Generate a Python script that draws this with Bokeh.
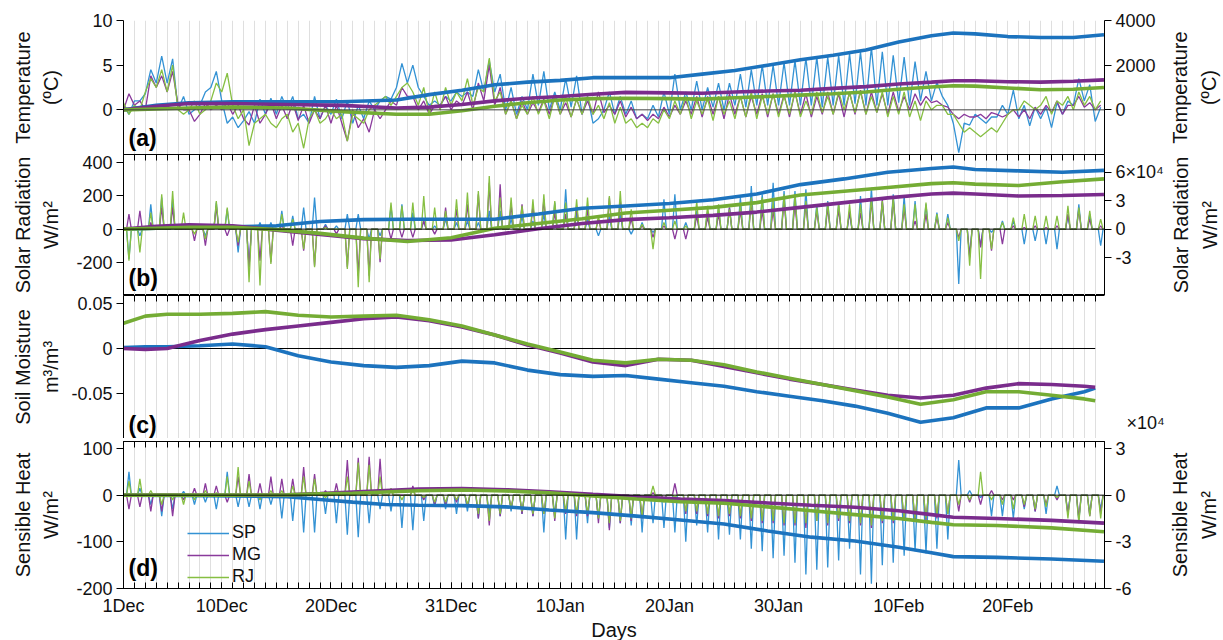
import numpy as np
from bokeh.plotting import figure
from bokeh.models import (Range1d, LinearAxis, FixedTicker, Legend,
                          LegendItem, Grid, Span, Label)
from bokeh.layouts import column, row
from bokeh.embed import file_html
from bokeh.resources import INLINE

# ---------------------------------------------------------------- time axis
DAYS = list(range(90))                      # 1 Dec ... 28 Feb (day 0 = 1 Dec)
DATE_LABELS = {0: "1Dec", 9: "10Dec", 19: "20Dec", 30: "31Dec", 40: "10Jan",
               50: "20Jan", 60: "30Jan", 71: "10Feb", 81: "20Feb"}

# ------------------------------------------------ (a) temperature anomaly
# 12-hourly samples (°C), one (night, afternoon) pair per day
TEMP_SP = [
    0.5, -0.5, 1.0, 1.0, 1.8, 4.5, 3.0, 6.0, 3.0, 5.7, 0.0, 1.5, -0.5, 0.0, 0.5, 2.0, 2.5, 4.3, 1.0, -1.5,
    -0.8, -2.0, -1.2, -0.2, -1.5, 1.2, -0.5, 1.3, -0.5, 1.5, 0.0, 1.5, -1.0, -0.5, -1.5, 1.5, -1.0, 0.5, -0.5, 1.2,
    -1.0, 1.0, -1.5, 0.5, -1.0, 1.0, 0.0, 1.0, 1.5, 1.2, 2.5, 5.2, 3.0, 5.0, 2.5, 1.5, 0.5, 1.0, 0.5, 1.5,
    1.0, 2.0, 1.5, 2.0, 1.5, 4.5, 2.0, 5.5, 2.0, 4.0, 0.0, 2.5, -0.5, 1.5, 0.0, 4.0, 0.5, 4.3, 0.0, 2.0,
    0.0, 3.5, 0.3, 3.8, -0.5, 1.5, -1.5, -1.0, 0.0, 2.0, -0.5, 1.5, -0.5, 1.0, -1.0, -0.5, -1.0, 0.5, -0.8, 2.0,
    -0.5, 4.0, 0.0, 2.0, 0.0, 3.2, 0.0, 2.5, 0.3, 3.0, 0.0, 3.0, 0.5, 4.0, 0.3, 4.5, 0.5, 5.0, 0.5, 5.0,
    0.5, 5.3, 0.5, 5.5, 0.5, 5.8, 0.5, 5.9, 0.3, 5.9, 0.5, 6.1, 0.5, 6.3, 0.7, 6.5, 0.5, 7.0, 0.5, 6.5,
    0.5, 6.1, 0.8, 5.9, 0.5, 5.4, 1.0, 4.3, 1.0, 3.1, 1.5, 0.5, -1.5, -4.8, -1.5, -1.7, -0.5, -1.0, -1.5, -0.8,
    -0.8, 0.5, -0.5, 2.2, -1.0, 0.5, -1.8, 0.3, -1.0, 0.3, -2.0, 0.8, -0.5, 1.0, 0.5, 3.5, 1.0, 2.8, -1.3, 0.3,
]
TEMP_MG = [
    0.0, 1.8, 0.5, 1.0, 0.0, 3.8, 2.5, 3.8, 2.0, 4.3, 0.5, 0.0, 0.0, -1.3, -0.5, 0.7, 0.0, 0.5, 0.0, 0.8,
    -0.5, 0.5, -1.0, -1.7, 0.5, -1.5, -0.5, 0.8, -1.0, 0.5, -1.0, 0.8, -1.2, 0.5, -1.5, 0.0, -1.0, 0.5, -1.5, 0.5,
    -1.5, -3.5, 0.0, -2.0, -1.0, -2.5, 0.0, -1.0, 0.0, 1.0, 0.5, 2.5, 1.5, 1.5, 0.0, 1.0, -0.5, 0.5, 0.5, 1.5,
    0.0, 1.0, 0.5, 2.0, 0.0, 3.0, 1.0, 5.0, 0.5, 2.5, -0.5, 1.0, -1.0, 1.0, -0.5, 0.8, -0.3, 1.2, -0.5, 1.5,
    -0.5, 0.8, -0.8, 1.2, -0.5, 1.0, -0.5, 2.0, -0.3, 0.5, -0.5, 1.0, -0.8, 0.3, -1.0, -0.5, -1.2, -0.5, -1.0, 0.3,
    -0.8, 0.5, -0.5, 1.0, -0.5, 1.5, -0.8, 1.5, -0.5, 1.5, -1.0, 1.8, -0.5, 1.5, -0.8, 1.5, -0.5, 1.8, -0.8, 1.8,
    -0.5, 1.7, -0.8, 2.0, -0.5, 1.8, -0.8, 1.5, -0.5, 2.0, -0.5, 1.8, -0.8, 2.0, -0.5, 2.2, -0.5, 2.0, -0.3, 1.8,
    -0.5, 2.0, -0.2, 1.5, 0.0, 1.8, 0.5, 1.5, 0.8, 1.0, 0.5, 0.3, -0.5, -1.0, -0.5, -0.8, -0.8, -0.5, -1.0, -0.3,
    -0.5, -0.8, -0.5, 0.0, -0.8, 0.0, -1.0, 0.3, -0.5, 0.5, -0.3, 1.0, -0.5, 0.5, 0.5, 1.5, 0.3, 0.8, 0.0, 0.5,
]
TEMP_RJ = [
    0.8, -0.5, 0.5, 0.0, 2.0, 3.5, 2.5, 4.5, 2.0, 5.0, 0.0, -0.5, 0.0, 1.0, -0.5, 0.0, 1.0, 3.0, 2.0, 4.1,
    0.5, -1.0, 0.0, -4.0, -1.5, -1.0, -0.5, -1.5, -2.0, -1.0, -0.5, -2.5, -1.5, -4.3, -1.0, 0.0, -1.5, -1.0, 0.0, -1.0,
    -0.5, -3.5, -0.5, -1.0, -1.5, 0.0, 0.5, 1.0, 1.5, 0.5, 1.5, 2.5, 3.0, 2.0, 0.5, 2.5, -0.5, 2.0, 0.0, 2.5,
    0.5, 2.0, 1.0, 3.5, 0.5, 2.5, 2.0, 5.8, 1.0, 2.0, -0.5, 1.0, -1.0, 0.5, -0.5, 1.5, -0.5, 1.0, -1.0, 1.5,
    -0.5, 1.5, -0.8, 1.2, -0.5, 1.5, -0.5, 0.5, -1.0, 0.8, -1.5, 0.3, -1.5, -1.0, -2.0, -1.5, -2.0, -1.0, -1.5, 0.0,
    -1.0, 1.0, -0.5, 1.5, -1.0, 1.0, -0.5, 1.2, -1.2, 1.5, -0.5, 1.0, -1.0, 1.5, -0.8, 2.0, -1.0, 1.5, -0.5, 1.8,
    -0.8, 1.5, -0.5, 2.0, -0.8, 1.0, -0.5, 2.0, -0.3, 1.5, -0.5, 2.0, 0.0, 1.8, -0.3, 2.0, -0.5, 1.5, -0.3, 2.0,
    -0.8, 1.5, -0.5, 2.0, -0.8, 1.0, -1.2, 1.0, 0.0, 0.5, 0.5, -0.5, -0.5, -1.5, -2.5, -2.0, -2.5, -3.0, -2.5, -2.0,
    -2.5, -1.5, -0.5, 0.0, 0.0, 1.0, 0.5, 0.0, 0.5, 1.5, -0.5, 1.0, 0.5, 1.5, 0.0, 2.0, 0.5, 1.5, 0.0, 1.0,
]
# cumulative temperature anomaly (right axis, °C)
CUM_T_DAYS = [0, 3, 6, 10, 15, 20, 25, 28, 31, 34, 37, 40, 43, 46, 50, 53, 56, 59,
              62, 65, 68, 71, 74, 76, 78, 81, 84, 87, 89.8]
CUM_T_SP = [0, 200, 320, 360, 360, 360, 440, 680, 880, 1120, 1240, 1320, 1440, 1440, 1440,
            1600, 1760, 2000, 2240, 2440, 2680, 3040, 3320, 3440, 3400, 3280, 3240, 3240, 3360]
CUM_T_MG = [0, 160, 280, 280, 240, 200, 80, 120, 240, 400, 520, 600, 700, 780, 760,
            740, 800, 840, 880, 960, 1040, 1160, 1240, 1300, 1300, 1260, 1240, 1280, 1340]
CUM_T_RJ = [0, 40, 80, 120, 80, -80, -200, -200, -40, 160, 320, 440, 500, 520, 500,
            480, 540, 600, 660, 720, 800, 920, 1020, 1080, 1060, 980, 900, 920, 1000]

# ------------------------------------------- (b) solar radiation anomaly
# midday anomaly for each day (W/m2); night-time anomaly is zero
SOL_SP = [-180, -40, 150, 190, 180, 10, 10, -40, 160, 120,
          -140, -230, 40, 40, 110, 80, 130, 190, 30, 20,
          90, 90, -60, -40, 140, 150, 100, 50, 20, 60,
          40, 50, 40, 110, 110, 60, 80, 50, 90, 160,
          240, 100, 60, -40, 80, 100, -30, 40, -20, 180,
          210, 40, 110, 110, 130, 130, 190, 260, 210, 280,
          230, 230, 240, 150, 170, 150, 100, 200, 250, 160,
          210, 200, 170, 150, 100, 90, -330, -160, -100, -20,
          50, 50, -90, -70, -90, -120, 80, 150, 90, -100]
SOL_MG = [90, 110, 40, 130, 130, 0, -70, -100, 140, -40,
          -100, -230, -190, -200, 20, -100, -130, -220, 20, -30,
          -230, -280, -280, -200, -60, -50, -50, 50, -30, 130,
          120, 150, 210, 280, 270, 150, 150, 140, 180, 100,
          90, 140, 120, 60, 190, 180, 60, 20, -50, 20,
          -60, -60, 80, 70, 90, 130, 110, 170, 110, 110,
          170, 150, 150, 110, 130, 120, 110, 100, 170, 180,
          180, 120, 50, 90, 70, 40, -50, -170, -110, -130,
          -90, 20, 10, 20, 10, 20, 90, 120, 60, 20]
SOL_RJ = [-190, -140, 100, 210, 230, 100, -30, -60, 170, 130,
          -80, -320, -340, -210, 90, 60, -120, -230, 10, 0,
          -240, -350, -320, -180, 160, 140, 160, 200, 130, 110,
          180, 220, 230, 320, 190, 190, 140, 180, 210, 170,
          160, 180, 190, 80, 200, 230, 120, 30, -120, 40,
          50, 20, 170, 140, 150, 120, 150, 190, 190, 170,
          210, 210, 170, 130, 160, 160, 150, 150, 190, 170,
          190, 150, 150, 160, 90, 70, -70, -220, -300, -120,
          40, 70, 90, 80, 80, 80, 140, 130, 110, 60]
# cumulative solar radiation anomaly (right axis, x10^4 W/m2)
CUM_S_DAYS = [0, 3, 6, 10, 14, 18, 22, 26, 30, 34, 38, 42, 46, 50, 54, 58, 62,
              66, 70, 74, 76, 78, 82, 86, 89.8]
CUM_S_SP = [0, 0.1, 0.25, 0.25, 0.35, 0.8, 1.0, 1.05, 1.05, 1.05, 1.6, 2.2, 2.45,
            2.7, 3.1, 3.7, 4.7, 5.3, 6.0, 6.4, 6.55, 6.3, 6.15, 6.0, 6.2]
CUM_S_MG = [0, 0.3, 0.45, 0.35, -0.1, -0.55, -1.0, -1.2, -1.15, -0.6, 0.05, 0.6, 1.0,
            1.2, 1.45, 1.8, 2.3, 2.8, 3.3, 3.7, 3.8, 3.7, 3.5, 3.55, 3.65]
CUM_S_RJ = [0, 0.1, 0.2, 0.2, -0.05, -0.45, -0.95, -1.3, -0.9, 0.1, 0.6, 1.1, 1.7,
            2.0, 2.3, 2.8, 3.6, 4.0, 4.4, 4.8, 4.9, 4.75, 4.6, 5.0, 5.3]

# ------------------------------------------------ (c) soil moisture anomaly
SOIL_DAYS = [0, 2, 4, 7, 10, 13, 16, 19, 22, 25, 28, 31, 34, 37, 40, 43, 46, 49,
             52, 55, 58, 61, 64, 67, 70, 73, 76, 79, 82, 85, 88, 89]
SOIL_SP = [0.001, 0.002, 0.002, 0.003, 0.005, 0.002, -0.008, -0.015, -0.019, -0.021,
           -0.019, -0.014, -0.016, -0.024, -0.029, -0.031, -0.030, -0.034, -0.038,
           -0.042, -0.048, -0.053, -0.058, -0.064, -0.072, -0.082, -0.077, -0.066,
           -0.066, -0.056, -0.048, -0.044]
SOIL_MG = [0.0, -0.001, 0.0, 0.009, 0.016, 0.021, 0.025, 0.029, 0.033, 0.035,
           0.031, 0.024, 0.015, 0.004, -0.005, -0.015, -0.019, -0.012, -0.013,
           -0.020, -0.027, -0.034, -0.040, -0.046, -0.052, -0.055, -0.052, -0.044,
           -0.039, -0.040, -0.042, -0.043]
SOIL_RJ = [0.028, 0.036, 0.038, 0.038, 0.039, 0.041, 0.037, 0.035, 0.036, 0.037,
           0.032, 0.025, 0.015, 0.005, -0.004, -0.013, -0.016, -0.012, -0.013,
           -0.018, -0.026, -0.033, -0.040, -0.047, -0.054, -0.062, -0.057, -0.048,
           -0.048, -0.052, -0.056, -0.058]

# --------------------------------------------- (d) sensible heat anomaly
SH_SP = [50, 15, -20, -45, -30, 8, -20, -15, -30, 50,
         -25, -25, -30, -20, -50, -55, -80, -80, -40, -60,
         -85, -90, -60, -30, -35, -70, -75, -55, -25, -30,
         -40, -35, -50, -40, -45, -35, -40, -45, -80, -40,
         -95, -95, -60, -50, -70, -60, -65, -80, -60, -70,
         -80, -100, -65, -80, -95, -85, -95, -115, -120, -135,
         -130, -145, -170, -160, -155, -140, -115, -170, -190, -150,
         -145, -130, -120, -125, -115, -95, 75, 10, -5, -45,
         -45, -50, -30, -35, -40, 20, -40, -55, -40, -30]
SH_MG = [-30, -25, -35, -35, -45, -10, 15, 25, 20, -15,
         40, 45, 25, 40, 35, 35, 60, 45, 10, 25,
         75, 80, 82, 78, 10, 0, 20, -10, -20, -20,
         -15, -25, -50, -65, -45, -30, -40, -45, -40, -55,
         -40, -45, -45, -60, -75, -60, -55, -50, 5, -10,
         25, -40, -40, -45, -50, -45, -50, -55, -60, -60,
         -65, -65, -70, -55, -65, -55, -60, -65, -70, -60,
         -60, -55, -55, -55, -50, -40, -35, -15, -20, 10,
         -10, -10, -25, -35, -20, -10, -40, -50, -45, -40]
SH_RJ = [30, 35, 10, -20, -10, -20, -10, 10, 5, 40,
         60, 30, -10, 10, 10, 20, 40, 35, -5, 10,
         40, 70, 65, 40, 15, -10, 10, -5, -15, -15,
         -10, -20, -40, -55, -40, -30, -35, -40, -40, -50,
         -35, -40, -40, -50, -60, -55, -50, -45, 20, -15,
         -5, -35, -35, -40, -45, -40, -45, -50, -55, -55,
         -60, -60, -60, -55, -60, -50, -55, -60, -65, -55,
         -55, -50, -50, -50, -45, -40, -20, -10, 50, -10,
         -20, -30, -20, -30, -25, -5, -50, -60, -45, -50]
# cumulative sensible heat anomaly (right axis, x10^4 W/m2)
CUM_H_DAYS = [0, 5, 10, 15, 18, 21, 24, 27, 31, 35, 39, 43, 47, 51, 55, 59, 63,
              67, 71, 74, 76, 80, 85, 89.8]
CUM_H_SP = [0, -0.02, -0.05, -0.1, -0.28, -0.45, -0.6, -0.65, -0.67, -0.75, -0.95,
            -1.12, -1.35, -1.6, -1.85, -2.3, -2.7, -2.95, -3.35, -3.7, -3.95, -4.0,
            -4.1, -4.25]
CUM_H_MG = [0, 0, 0, 0.02, 0.1, 0.2, 0.3, 0.4, 0.43, 0.35, 0.22, 0.05, -0.1, -0.25,
            -0.35, -0.5, -0.65, -0.78, -1.0, -1.25, -1.42, -1.5, -1.62, -1.8]
CUM_H_RJ = [0, 0, 0, 0.02, 0.08, 0.12, 0.2, 0.28, 0.33, 0.27, 0.15, -0.05, -0.25,
            -0.42, -0.52, -0.75, -1.0, -1.25, -1.5, -1.75, -1.9, -1.95, -2.1, -2.35]

# ------------------------------------------------------------------ styling
FONT = "Liberation Sans"
SITES = ["SP", "MG", "RJ"]
THIN = {"SP": "#3392d4", "MG": "#8a3a9c", "RJ": "#86bf42"}
THICK = {"SP": "#1c73be", "MG": "#7a2c8c", "RJ": "#74ac34"}
THIN_W, THICK_W = 1.3, 3.6
SUNRISE, NOON, SUNSET = 0.28, 0.5, 0.72
TITLE_SIZE = "20px"

X0, X1 = 0.0, 89.85
FRAME_W = 981
SIDE_W = 58                                  # strip holding right-hand titles
BORDER_L, BORDER_R = 123, 1223 - 123 - 981 - SIDE_W
x_range = Range1d(X0, X1)
GEOM = {}   # figure id -> (frame top in px, frame height in px, top border)


def px_to_day(px):
    return X0 + (px - BORDER_L) * (X1 - X0) / FRAME_W


def diurnal(vals):
    d = np.asarray(DAYS, dtype=float)
    v = np.asarray(vals, dtype=float)
    z = np.zeros_like(v)
    xs = np.column_stack([d + SUNRISE, d + NOON, d + SUNSET]).ravel()
    ys = np.column_stack([z, v, z]).ravel()
    return xs, ys


def blank_figure(width, height, left, right, top, yr, xr):
    p = figure(frame_width=width, frame_height=height, x_range=xr, y_range=yr,
               output_backend="svg", toolbar_location=None,
               x_axis_location=None, y_axis_location=None,
               min_border_left=left, min_border_right=right,
               min_border_top=top, min_border_bottom=0,
               outline_line_color=None, background_fill_color="white",
               border_fill_color="white")
    p.xgrid.grid_line_color = None
    p.ygrid.grid_line_color = None
    return p


def make_panel(top_px, height, ylo, yhi, min_top=0):
    p = blank_figure(FRAME_W, height, BORDER_L, BORDER_R, min_top,
                     Range1d(ylo, yhi), x_range)
    p.add_layout(Grid(dimension=0, ticker=FixedTicker(ticks=DAYS),
                      grid_line_color="#dfdfdf", grid_line_width=1))
    GEOM[p.id] = (top_px, height, min_top)
    return p


def py_to_val(p, py):
    top, h, _ = GEOM[p.id]
    lo, hi = p.y_range.start, p.y_range.end
    return hi - (py - top) / h * (hi - lo)


def style_axis(ax):
    ax.major_label_text_font = FONT
    ax.major_label_text_font_size = "18px"
    ax.major_label_text_color = "#111111"
    ax.axis_line_color = "black"
    ax.major_tick_line_color = "black"
    ax.minor_tick_line_color = None
    ax.major_label_standoff = 4


def style_title(ax, title, standoff):
    ax.axis_label = title
    ax.axis_label_text_font = FONT
    ax.axis_label_text_font_size = TITLE_SIZE
    ax.axis_label_text_font_style = "normal"
    ax.axis_label_text_color = "#111111"
    ax.axis_label_text_line_height = 1.3
    ax.axis_label_standoff = standoff


def add_y_axis(p, side, ticks, labels, title=None, title_standoff=0,
               range_name="default"):
    ax = LinearAxis(y_range_name=range_name, ticker=FixedTicker(ticks=ticks),
                    major_label_overrides=dict(zip(ticks, labels)),
                    major_tick_out=7, major_tick_in=0)
    style_axis(ax)
    if title:
        style_title(ax, title, title_standoff)
    p.add_layout(ax, side)


def add_top_ticks(p, visible=True):
    # day ticks along the upper edge, drawn as label-free minor ticks
    ax = LinearAxis(ticker=FixedTicker(ticks=[], minor_ticks=DAYS),
                    minor_tick_in=6, minor_tick_out=0, major_tick_in=0,
                    major_tick_out=0, major_label_standoff=0)
    ax.axis_line_color = "black" if visible else None
    ax.minor_tick_line_color = "black" if visible else None
    p.add_layout(ax, "above")


def right_title(p, title, with_top_axis):
    """Narrow strip to the right of a panel carrying its right-axis title."""
    top, h, min_top = GEOM[p.id]
    s = blank_figure(1, h, SIDE_W - 1, 0, min_top, Range1d(0, 1), Range1d(0, 1))
    if with_top_axis:
        add_top_ticks(s, visible=False)
    ax = LinearAxis(ticker=FixedTicker(ticks=[]), major_tick_in=0,
                    major_tick_out=0, major_label_standoff=0)
    ax.axis_line_color = None
    ax.major_tick_line_color = None
    ax.minor_tick_line_color = None
    style_title(ax, title, 3)
    s.add_layout(ax, "left")
    return s


def panel_tag(p, tag, py):
    p.add_layout(Label(x=px_to_day(128), y=py_to_val(p, py), text=tag,
                       text_align="left", text_baseline="middle",
                       text_font=FONT, text_font_size="23px",
                       text_font_style="bold", text_color="black"))


def zero_line(p, color="black"):
    p.add_layout(Span(location=0, dimension="width", line_color=color,
                      line_width=1))


# ---------------------------------------------------------------- panel (a)
pa = make_panel(20, 134, -5, 10, min_top=20)
pa.extra_y_ranges = {"cum": Range1d(-2000, 4000)}
add_y_axis(pa, "left", [0, 5, 10], ["0", "5", "10"], "Temperature\n(ºC)", 27)
add_y_axis(pa, "right", [0, 2000, 4000], ["0", "2000", "4000"], range_name="cum")
zero_line(pa, "#444444")
t_half = np.arange(len(TEMP_SP)) * 0.5
for site, vals in zip(SITES, [TEMP_SP, TEMP_MG, TEMP_RJ]):
    pa.line(t_half, vals, line_color=THIN[site], line_width=THIN_W)
for site, vals in zip(SITES, [CUM_T_SP, CUM_T_MG, CUM_T_RJ]):
    pa.line(CUM_T_DAYS, vals, line_color=THICK[site], line_width=THICK_W,
            y_range_name="cum")
panel_tag(pa, "(a)", 137)
sa = right_title(pa, "Temperature\n(ºC)", False)

# ---------------------------------------------------------------- panel (b)
pb = make_panel(154, 141, -400, 450)
pb.outline_line_color = "black"
pb.extra_y_ranges = {"cum": Range1d(-7.0, 7.875)}
add_top_ticks(pb)
add_y_axis(pb, "left", [-200, 0, 200, 400], ["-200", "0", "200", "400"],
           "Solar Radiation\nW/m²", 11)
add_y_axis(pb, "right", [-3, 0, 3, 6], ["-3", "0", "3", "6×10⁴"],
           range_name="cum")
for site, vals in zip(SITES, [SOL_SP, SOL_MG, SOL_RJ]):
    xs, ys = diurnal(vals)
    pb.line(xs, ys, line_color=THIN[site], line_width=THIN_W)
zero_line(pb)
for site, vals in zip(SITES, [CUM_S_SP, CUM_S_MG, CUM_S_RJ]):
    pb.line(CUM_S_DAYS, vals, line_color=THICK[site], line_width=THICK_W,
            y_range_name="cum")
panel_tag(pb, "(b)", 277)
sb = right_title(pb, "Solar Radiation\nW/m²", True)

# ---------------------------------------------------------------- panel (c)
pc = make_panel(295, 143, -0.1, 0.0589)
add_top_ticks(pc)
add_y_axis(pc, "left", [-0.05, 0, 0.05], ["-0.05", "0", "0.05"],
           "Soil Moisture\nm³/m³", 6)
# exponent of the sensible-heat right axis, printed just above panel (d)
pc.extra_y_ranges = {"px": Range1d(0, 143)}
exp_ax = LinearAxis(y_range_name="px", ticker=FixedTicker(ticks=[4]),
                    major_label_overrides={4: "×10⁴"}, major_tick_in=0,
                    major_tick_out=0)
style_axis(exp_ax)
exp_ax.major_label_standoff = 22
exp_ax.axis_line_color = None
exp_ax.major_tick_line_color = None
pc.add_layout(exp_ax, "right")
pc.line([DAYS[0], DAYS[-1]], [0, 0], line_color="black", line_width=1)
for site, vals in zip(SITES, [SOIL_SP, SOIL_MG, SOIL_RJ]):
    pc.line(SOIL_DAYS, vals, line_color=THICK[site], line_width=THICK_W)
panel_tag(pc, "(c)", 424)

# ---------------------------------------------------------------- panel (d)
pd_ = make_panel(441, 147, -200, 115, min_top=3)
pd_.outline_line_color = "black"
pd_.extra_y_ranges = {"cum": Range1d(-6.0, 3.45)}
add_top_ticks(pd_)
add_y_axis(pd_, "left", [-200, -100, 0, 100], ["-200", "-100", "0", "100"],
           "Sensible Heat\nW/m²", 11)
add_y_axis(pd_, "right", [-6, -3, 0, 3], ["-6", "-3", "0", "3"], range_name="cum")
zero_line(pd_)
thin_renderers = []
for site, vals in zip(SITES, [SH_SP, SH_MG, SH_RJ]):
    xs, ys = diurnal(vals)
    thin_renderers.append(pd_.line(xs, ys, line_color=THIN[site],
                                   line_width=THIN_W))
for site, vals in zip(SITES, [CUM_H_SP, CUM_H_MG, CUM_H_RJ]):
    pd_.line(CUM_H_DAYS, vals, line_color=THICK[site], line_width=THICK_W,
             y_range_name="cum")
label_days = list(DATE_LABELS)
xb = LinearAxis(ticker=FixedTicker(ticks=label_days, minor_ticks=DAYS),
                major_label_overrides=DATE_LABELS,
                major_tick_in=6, major_tick_out=0,
                minor_tick_in=6, minor_tick_out=0, axis_label="Days")
style_axis(xb)
xb.minor_tick_line_color = "black"
xb.major_label_standoff = 7
xb.axis_label_text_font = FONT
xb.axis_label_text_font_size = "20px"
xb.axis_label_text_font_style = "normal"
xb.axis_label_text_color = "#111111"
xb.axis_label_standoff = 0
pd_.add_layout(xb, "below")
panel_tag(pd_, "(d)", 567)
sd = right_title(pd_, "Sensible Heat\nW/m²", True)

legend = Legend(items=[LegendItem(label=s, renderers=[r])
                       for s, r in zip(SITES, thin_renderers)],
                location=(64, 1), glyph_width=42, glyph_height=20,
                label_height=20, spacing=1, padding=0, margin=0,
                label_standoff=3, label_text_font=FONT,
                label_text_font_size="18px", label_text_color="#111111",
                background_fill_alpha=0, border_line_alpha=0)
pd_.add_layout(legend)

layout = column(row(pa, sa, spacing=0), row(pb, sb, spacing=0), pc,
                row(pd_, sd, spacing=0), spacing=0)
open("out.html", "w").write(file_html(layout, INLINE))
